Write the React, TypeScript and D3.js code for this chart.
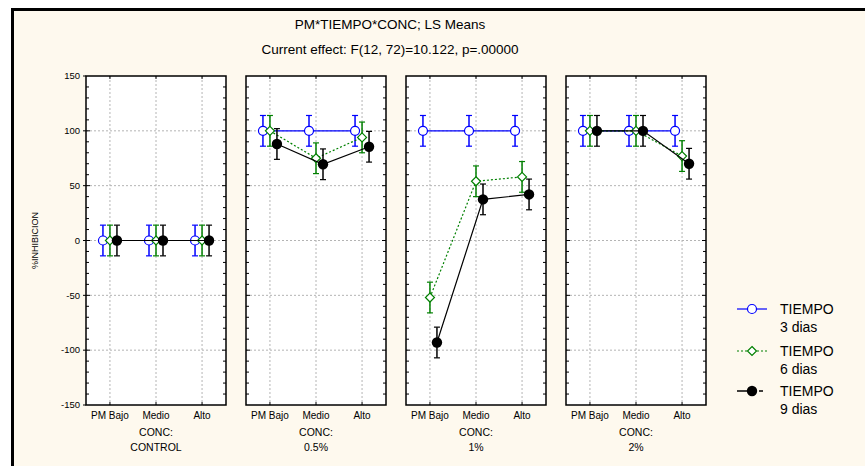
import React, { useEffect, useRef } from 'react';
import * as d3 from 'd3';

const W = 865;
const H = 466;

const panels = ['CONTROL', '0.5%', '1%', '2%'];
const levels = ['PM Bajo', 'Medio', 'Alto'];
const yTicks = [150, 100, 50, 0, -50, -100, -150];

// LS means per panel (PM Bajo, Medio, Alto)
const dias3 = [
  [0, 0, 0],
  [100, 100, 100],
  [100, 100, 100],
  [100, 100, 100]
];
const dias6 = [
  [0, 0, 0],
  [100, 75, 94],
  [-52, 54, 58],
  [100, 100, 77]
];
const dias9 = [
  [0, 0, 0],
  [88, 69.5, 85.5],
  [-93, 37.5, 42],
  [100, 100, 70]
];
const ciHalf = 14;

const seriesNames = ['TIEMPO\n3 dias', 'TIEMPO\n6 dias', 'TIEMPO\n9 dias'];

export default function App() {
  const ref = useRef<SVGSVGElement>(null);

  useEffect(() => {
    if (!ref.current) return;
    const svg = d3.select(ref.current);
    svg.selectAll('*').remove();

    const font = '"Liberation Sans", Arial, sans-serif';

    // Background + partial frame
    svg.append('rect').attr('width', W).attr('height', H).attr('fill', '#ffffff');
    svg.append('rect').attr('x', 12).attr('y', 9).attr('width', W - 12).attr('height', H - 9).attr('fill', '#fef9ee');
    svg.append('line').attr('x1', 12).attr('x2', W).attr('y1', 9.5).attr('y2', 9.5).attr('stroke', '#000').attr('stroke-width', 3);
    svg.append('line').attr('x1', 12.5).attr('x2', 12.5).attr('y1', 8).attr('y2', H).attr('stroke', '#000').attr('stroke-width', 3);

    // Titles
    svg.append('text').attr('x', 390).attr('y', 29).attr('text-anchor', 'middle')
      .attr('font-family', font).attr('font-size', 13.5).text('PM*TIEMPO*CONC; LS Means');
    svg.append('text').attr('x', 390).attr('y', 54).attr('text-anchor', 'middle')
      .attr('font-family', font).attr('font-size', 13.5).text('Current effect: F(12, 72)=10.122, p=.00000');

    const top = 76;
    const bottom = 405;
    const pw = 140;
    const gap = 20;
    const left0 = 86;

    const y = d3.scaleLinear().domain([-150, 150]).range([bottom, top]);
    const panelX = d3.scaleBand<string>().domain(panels)
      .range([left0, left0 + panels.length * pw + (panels.length - 1) * gap])
      .paddingInner(gap / (pw + gap)).paddingOuter(0);

    // Y axis labels
    yTicks.forEach(t => {
      svg.append('text').attr('x', 80).attr('y', y(t)).attr('dy', '0.35em')
        .attr('text-anchor', 'end').attr('font-family', font).attr('font-size', 9.5).text(t);
      svg.append('line').attr('x1', left0 - 3).attr('x2', left0).attr('y1', y(t)).attr('y2', y(t))
        .attr('stroke', '#000');
    });
    svg.append('text')
      .attr('transform', `translate(38,${y(0)}) rotate(-90)`)
      .attr('text-anchor', 'middle').attr('font-family', font).attr('font-size', 9).text('%INHIBICION');

    const series = [
      { data: dias3, color: '#0000ff', dash: null, marker: 'circle', off: -7 },
      { data: dias6, color: '#008000', dash: '2,2', marker: 'diamond', off: 0 },
      { data: dias9, color: '#000000', dash: null, marker: 'dot', off: 7 }
    ];

    const drawMarker = (g: d3.Selection<SVGGElement, unknown, null, undefined>, kind: string, cx: number, cy: number, color: string) => {
      if (kind === 'circle') {
        g.append('circle').attr('cx', cx).attr('cy', cy).attr('r', 4.5)
          .attr('fill', '#fff').attr('stroke', color).attr('stroke-width', 1.2);
      } else if (kind === 'diamond') {
        g.append('path').attr('d', `M${cx},${cy - 4.5}L${cx + 4.5},${cy}L${cx},${cy + 4.5}L${cx - 4.5},${cy}Z`)
          .attr('fill', '#fff').attr('stroke', color).attr('stroke-width', 1.2);
      } else {
        g.append('circle').attr('cx', cx).attr('cy', cy).attr('r', 5.2).attr('fill', color);
      }
    };

    panels.forEach((p, pi) => {
      const px = panelX(p)!;
      const x = d3.scalePoint<string>().domain(levels).range([px, px + pw]).padding(0.52);
      const g = svg.append('g');

      g.append('rect').attr('x', px).attr('y', top).attr('width', pw).attr('height', bottom - top)
        .attr('fill', '#fff');

      // grid
      yTicks.slice(1, -1).forEach(t => {
        g.append('line').attr('x1', px).attr('x2', px + pw).attr('y1', y(t)).attr('y2', y(t))
          .attr('stroke', '#b4b4b4').attr('stroke-dasharray', '2,2');
      });
      levels.forEach(l => {
        g.append('line').attr('x1', x(l)!).attr('x2', x(l)!).attr('y1', top).attr('y2', bottom)
          .attr('stroke', '#b4b4b4').attr('stroke-dasharray', '2,2');
        g.append('line').attr('x1', x(l)!).attr('x2', x(l)!).attr('y1', bottom).attr('y2', bottom - 3)
          .attr('stroke', '#000');
        g.append('line').attr('x1', x(l)!).attr('x2', x(l)!).attr('y1', top).attr('y2', top + 3)
          .attr('stroke', '#000');
        svg.append('text').attr('x', x(l)!).attr('y', bottom + 14).attr('text-anchor', 'middle')
          .attr('font-family', font).attr('font-size', 10).text(l);
      });

      // minor ticks inside both sides
      d3.range(-140, 150, 10).forEach(t => {
        const len = t % 50 === 0 ? 4 : 3;
        g.append('line').attr('x1', px).attr('x2', px + len).attr('y1', y(t)).attr('y2', y(t)).attr('stroke', '#000');
        g.append('line').attr('x1', px + pw - len).attr('x2', px + pw).attr('y1', y(t)).attr('y2', y(t)).attr('stroke', '#000');
      });

      // series
      series.forEach(s => {
        const vals = s.data[pi];
        const line = d3.line<number>()
          .x((_, i) => x(levels[i])! + s.off)
          .y(d => y(d));
        const path = g.append('path').datum(vals).attr('d', line)
          .attr('fill', 'none').attr('stroke', s.color).attr('stroke-width', 1.2);
        if (s.dash) path.attr('stroke-dasharray', s.dash);

        vals.forEach((v, i) => {
          const cx = x(levels[i])! + s.off;
          g.append('line').attr('x1', cx).attr('x2', cx).attr('y1', y(v - ciHalf)).attr('y2', y(v + ciHalf))
            .attr('stroke', s.color).attr('stroke-width', 1.5);
          [v - ciHalf, v + ciHalf].forEach(e => {
            g.append('line').attr('x1', cx - 3).attr('x2', cx + 3).attr('y1', y(e)).attr('y2', y(e))
              .attr('stroke', s.color).attr('stroke-width', 1.2);
          });
        });
        vals.forEach((v, i) => drawMarker(g, s.marker, x(levels[i])! + s.off, y(v), s.color));
      });

      g.append('rect').attr('x', px).attr('y', top).attr('width', pw).attr('height', bottom - top)
        .attr('fill', 'none').attr('stroke', '#000').attr('stroke-width', 1.5);

      const cx = px + pw / 2;
      svg.append('text').attr('x', cx).attr('y', bottom + 31).attr('text-anchor', 'middle')
        .attr('font-family', font).attr('font-size', 10.5).text('CONC:');
      svg.append('text').attr('x', cx).attr('y', bottom + 46).attr('text-anchor', 'middle')
        .attr('font-family', font).attr('font-size', 10.5).text(p);
    });

    // Legend
    const ly = [309, 351, 391];
    series.forEach((s, i) => {
      const g = svg.append('g');
      if (s.marker === 'dot') {
        g.append('line').attr('x1', 737).attr('x2', 747).attr('y1', ly[i]).attr('y2', ly[i]).attr('stroke', '#000').attr('stroke-width', 1.5);
        g.append('line').attr('x1', 759).attr('x2', 763).attr('y1', ly[i]).attr('y2', ly[i]).attr('stroke', '#000').attr('stroke-width', 1.5);
      } else {
        const l = g.append('line').attr('x1', 737).attr('x2', 767).attr('y1', ly[i]).attr('y2', ly[i])
          .attr('stroke', s.color).attr('stroke-width', 1.2);
        if (s.dash) l.attr('stroke-dasharray', s.dash);
      }
      drawMarker(g, s.marker, 752, ly[i], s.color);
      const lines = seriesNames[i].split('\n');
      lines.forEach((t, k) => {
        g.append('text').attr('x', 780).attr('y', ly[i] + 5 + k * 18)
          .attr('font-family', font).attr('font-size', 14).text(t);
      });
    });
  }, []);

  return (
    <svg ref={ref} width={W} height={H}
      style={{ position: 'absolute', left: 0, top: 0, display: 'block' }} />
  );
}
